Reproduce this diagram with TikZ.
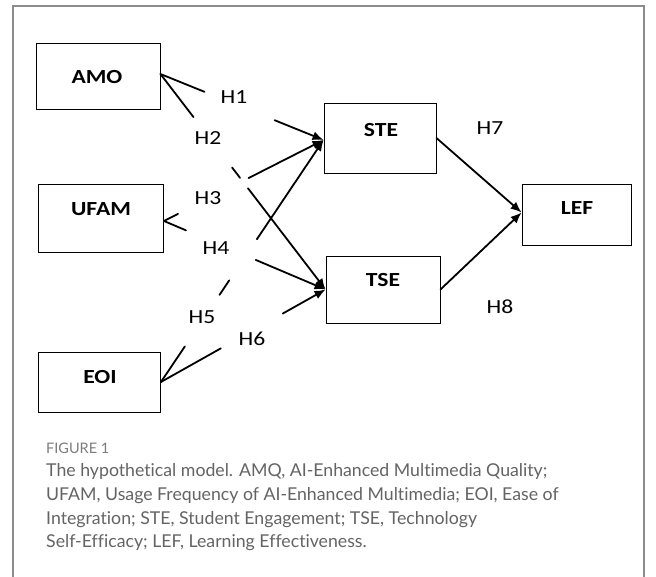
\documentclass[tikz,border=0pt]{standalone}
\usepackage{fontspec}
\setmainfont{Carlito}[FakeStretch=1.18]
\newfontfamily\capfont{Lato}[Ligatures=NoCommon]
\usetikzlibrary{calc,arrows.meta}
\definecolor{capgray}{RGB}{100,100,100}
\definecolor{figgray}{RGB}{125,125,125}
\definecolor{framegray}{RGB}{140,140,140}
\tikzset{
  box/.style={draw=black,line width=0.9pt,inner sep=0pt},
  boxtext/.style={font=\fontsize{20}{22}\selectfont\bfseries,inner sep=0pt},
  hyp/.style={font=\fontsize{20}{22}\selectfont,inner sep=0pt},
  conn/.style={line width=1.8pt,line cap=round},
  arr/.style={-{Latex[length=11pt,width=9pt]}},
  captext/.style={font=\capfont\fontsize{17.7}{19}\selectfont,text=capgray,anchor=base west,inner sep=0pt},
}
\begin{document}
\begin{tikzpicture}[x=1pt,y=-1pt]
\useasboundingbox (0,0) rectangle (656,576);
\fill[white] (0,0) rectangle (656,576);
\draw[framegray,line width=1.2pt] (13,577) -- (13,6) -- (644,6) -- (644,577);

% boxes
\node[box,minimum width=124pt,minimum height=66pt] (AMO) at (98,76) {};
\node[box,minimum width=125pt,minimum height=68pt] (UFAM) at (101,218) {};
\node[box,minimum width=122pt,minimum height=60pt] (EOI) at (99.5,382) {};
\node[box,minimum width=112pt,minimum height=70pt] (STE) at (380,138) {};
\node[box,minimum width=114pt,minimum height=67pt] (TSE) at (383,289.5) {};
\node[box,minimum width=109pt,minimum height=61pt] (LEF) at (576.5,214.5) {};

\node[boxtext] (tAMO) at (97,77) {AMO};
\node[boxtext] (tUFAM) at (101,209) {UFAM};
\node[boxtext] (tEOI) at (100,377) {EOI};
\node[boxtext] (tSTE) at (381,130) {STE};
\node[boxtext] (tTSE) at (383,280) {TSE};
\node[boxtext] (tLEF) at (577,208) {LEF};

% source / target points
\coordinate (sA) at ($(AMO.east)+(0,-2)$);
\coordinate (sU) at ($(UFAM.east)+(0,3)$);
\coordinate (sE) at (EOI.east);
\coordinate (tS) at ($(STE.west)+(0,2)$);
\coordinate (tT) at (TSE.west);
\coordinate (tL) at ($(LEF.west)+(0,-2)$);

% H1: AMO -> STE
\draw[conn] (sA) -- ($(sA)!0.27!(tS)$);
\draw[conn,arr] ($(sA)!0.70!(tS)$) -- (tS);
% H2: AMO -> TSE
\draw[conn] (sA) -- ($(sA)!0.20!(tT)$);
\draw[conn] ($(sA)!0.434!(tT)$) -- ($(sA)!0.482!(tT)$);
\draw[conn,arr] ($(sA)!0.53!(tT)$) -- (tT);
% H3: UFAM -> STE
\draw[conn] (sU) -- ($(sU)!0.088!(tS)$);
\draw[conn,arr] ($(sU)!0.53!(tS)$) -- (tS);
% H4: UFAM -> TSE
\draw[conn] (sU) -- ($(sU)!0.136!(tT)$);
\draw[conn,arr] ($(sU)!0.568!(tT)$) -- (tT);
% H5: EOI -> STE
\draw[conn] (sE) -- ($(sE)!0.147!(tS)$);
\draw[conn] ($(sE)!0.36!(tS)$) -- ($(sE)!0.42!(tS)$);
\draw[conn,arr] ($(sE)!0.59!(tS)$) -- (tS);
% H6: EOI -> TSE
\draw[conn] (sE) -- ($(sE)!0.364!(tT)$);
\draw[conn,arr] ($(sE)!0.74!(tT)$) -- (tT);
% H7, H8
\draw[conn,arr] (STE.east) -- (tL);
\draw[conn,arr] (TSE.east) -- (tL);

% hypothesis labels
\node[hyp] (h1) at (234,97) {H1};
\node[hyp] (h2) at (208,138) {H2};
\node[hyp] (h3) at (208,198) {H3};
\node[hyp] (h4) at (216,248) {H4};
\node[hyp] (h5) at (202,317) {H5};
\node[hyp] (h6) at (252,339) {H6};
\node[hyp] (h7) at (490,128) {H7};
\node[hyp] (h8) at (500,307) {H8};

% caption
\node[font=\capfont\fontsize{14.5}{15}\selectfont,text=figgray,anchor=base west,inner sep=0pt] (fig) at (46,453) {FIGURE 1};
\node[captext] (c1) at (46,476) {The hypothetical model. AMQ, AI-Enhanced Multimedia Quality;};
\node[captext] (c2) at (46,500) {UFAM, Usage Frequency of AI-Enhanced Multimedia; EOI, Ease of};
\node[captext] (c3) at (46,524) {Integration; STE, Student Engagement; TSE, Technology};
\node[captext] (c4) at (46,547) {Self-Efficacy; LEF, Learning Effectiveness.};
\end{tikzpicture}
\end{document}
